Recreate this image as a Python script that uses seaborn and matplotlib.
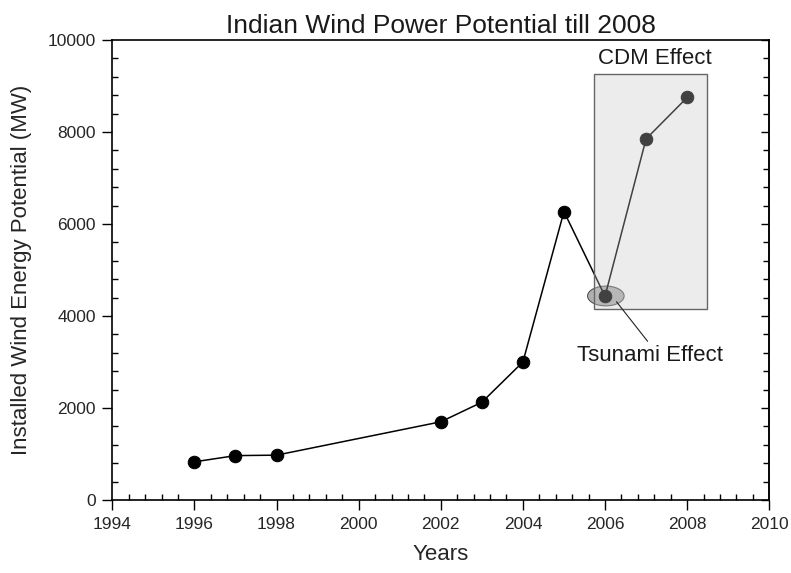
import pandas as pd
import numpy as np
import matplotlib
matplotlib.use('Agg')
import matplotlib.pyplot as plt
import seaborn as sns
from matplotlib.patches import Rectangle, Ellipse
from matplotlib.ticker import MultipleLocator, AutoMinorLocator

# installed capacity
years = [1996, 1997, 1998, 2002, 2003, 2004, 2005, 2006, 2007, 2008]
capacity_mw = [830, 965, 975, 1700, 2125, 3000, 6270, 4430, 7850, 8750]

x_ticks = [1994, 1996, 1998, 2000, 2002, 2004, 2006, 2008, 2010]
y_ticks = [0, 2000, 4000, 6000, 8000, 10000]

df = pd.DataFrame({'year': years, 'mw': capacity_mw})

sns.set_style("ticks")
plt.rcParams['font.family'] = ['Liberation Sans', 'DejaVu Sans']
plt.rcParams['text.color'] = '#1a1a1a'

fig = plt.figure(figsize=(7.91, 5.73), dpi=100)
ax = fig.add_axes([0.142, 0.1274, 0.8305, 0.8028])

sns.lineplot(data=df, x='year', y='mw', ax=ax, color='black', linewidth=1.1,
             marker='o', markersize=9, markeredgecolor='black', zorder=2)

# tsunami ellipse under the 2006 point, CDM box over the last three years
ax.add_patch(Ellipse((2006.02, 4435), 0.89, 430, facecolor='#b0b0b0',
                     edgecolor='#555555', linewidth=0.8, zorder=1.5))
ax.add_patch(Rectangle((2005.73, 4150), 2.75, 5110,
                       facecolor=(0.78, 0.78, 0.78, 0.33),
                       edgecolor='#666666', linewidth=1, zorder=3))

ax.text(2007.22, 9600, 'CDM Effect', fontsize=16, ha='center', va='center')
ax.annotate('Tsunami Effect', xy=(2006.28, 4310), xytext=(2007.1, 3150),
            fontsize=16, ha='center', va='center',
            arrowprops=dict(arrowstyle='-', color='#222222', lw=0.8,
                            relpos=(0.5, 1.0), shrinkA=0, shrinkB=0))

ax.set_xlim(1994, 2010)
ax.set_ylim(0, 10000)
ax.set_xticks(x_ticks)
ax.set_yticks(y_ticks)
ax.xaxis.set_minor_locator(AutoMinorLocator(5))
ax.yaxis.set_minor_locator(AutoMinorLocator(5))

ax.tick_params(which='major', direction='out', length=7, width=1,
               labelsize=12.5, pad=5, color='black')
ax.tick_params(which='minor', direction='in', length=4, width=1, color='black')
ax.tick_params(which='both', top=False, right=False)

right = ax.secondary_yaxis('right')
right.set_yticks(y_ticks)
right.yaxis.set_minor_locator(AutoMinorLocator(5))
right.tick_params(which='both', direction='in', labelright=False, color='black')
right.tick_params(which='major', length=6, width=1)
right.tick_params(which='minor', length=4, width=1)
right.spines['right'].set_linewidth(1.2)

for s in ax.spines.values():
    s.set_color('black')
    s.set_linewidth(1.2)

ax.set_title('Indian Wind Power Potential till 2008', fontsize=19, pad=5)
ax.set_xlabel('Years', fontsize=16, labelpad=9)
ax.set_ylabel('Installed Wind Energy Potential (MW)', fontsize=16, labelpad=11)

fig.savefig('out.png', dpi=100, facecolor='white')
